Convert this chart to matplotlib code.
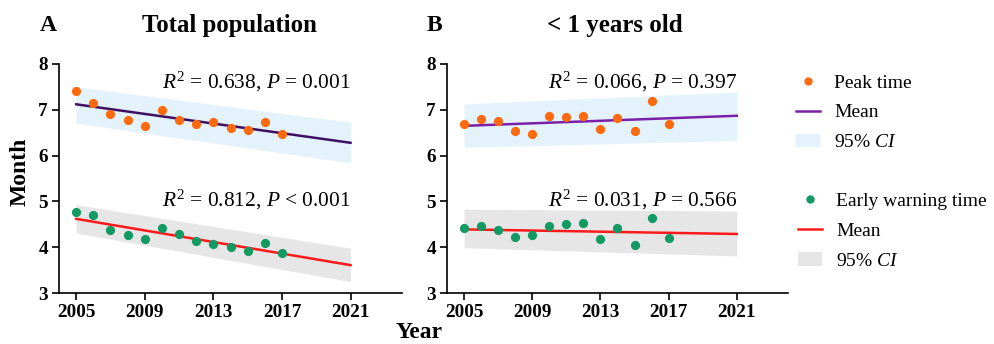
import matplotlib
matplotlib.use("Agg")
import matplotlib.pyplot as plt
from matplotlib.lines import Line2D
from matplotlib.patches import Patch

plt.rcParams['font.family'] = ['Liberation Serif', 'DejaVu Serif']
plt.rcParams['mathtext.fontset'] = 'custom'
plt.rcParams['mathtext.rm'] = 'Liberation Serif'
plt.rcParams['mathtext.it'] = 'Liberation Serif:italic'

years = [2005, 2006, 2007, 2008, 2009, 2010, 2011, 2012, 2013, 2014, 2015, 2016, 2017]
fit_years = [2005, 2021]

# Panel A: Total population
a_peak = [7.42, 7.15, 6.90, 6.77, 6.64, 7.00, 6.78, 6.70, 6.74, 6.60, 6.57, 6.74, 6.47]
a_peak_mean = [7.12, 6.28]
a_peak_lo = [6.71, 5.84]
a_peak_hi = [7.50, 6.73]
a_early = [4.76, 4.71, 4.38, 4.27, 4.19, 4.41, 4.30, 4.13, 4.08, 4.00, 3.91, 4.09, 3.87]
a_early_mean = [4.62, 3.61]
a_early_lo = [4.31, 3.25]
a_early_hi = [4.93, 3.98]

# Panel B: < 1 years old
b_peak = [6.68, 6.81, 6.75, 6.54, 6.48, 6.86, 6.84, 6.87, 6.58, 6.83, 6.54, 7.19, 6.70]
b_peak_mean = [6.65, 6.87]
b_peak_lo = [6.18, 6.33]
b_peak_hi = [7.13, 7.39]
b_early = [4.43, 4.47, 4.37, 4.22, 4.27, 4.46, 4.50, 4.54, 4.18, 4.41, 4.04, 4.64, 4.20]
b_early_mean = [4.39, 4.29]
b_early_lo = [3.99, 3.81]
b_early_hi = [4.83, 4.79]

panel_letters = ['A', 'B']
titles = ['Total population', '< 1 years old']
peak_stats = [r'$R^2$ = 0.638, $P$ = 0.001', r'$R^2$ = 0.066, $P$ = 0.397']
early_stats = [r'$R^2$ = 0.812, $P$ < 0.001', r'$R^2$ = 0.031, $P$ = 0.566']
xticks = [2005, 2009, 2013, 2017, 2021]
yticks = [3, 4, 5, 6, 7, 8]

ORANGE = '#FF6A0E'
GREEN = '#139A63'
PURPLE_A = '#3F1062'
PURPLE_B = '#7B1FA8'
RED = '#FF1A1A'
BLUE_BAND = '#E4F2FC'
GREY_BAND = '#E6E6E6'

fig = plt.figure(figsize=(9.94, 3.44), dpi=100)
axA = fig.add_axes([0.0594, 0.148, 0.345, 0.666])
axB = fig.add_axes([0.4497, 0.148, 0.343, 0.666])

data = [
    (axA, a_peak, a_peak_mean, a_peak_lo, a_peak_hi, a_early, a_early_mean, a_early_lo, a_early_hi, PURPLE_A),
    (axB, b_peak, b_peak_mean, b_peak_lo, b_peak_hi, b_early, b_early_mean, b_early_lo, b_early_hi, PURPLE_B),
]

for i, (ax, pk, pkm, pkl, pkh, ew, ewm, ewl, ewh, pcol) in enumerate(data):
    ax.fill_between(fit_years, pkl, pkh, color=BLUE_BAND, lw=0, zorder=1)
    ax.fill_between(fit_years, ewl, ewh, color=GREY_BAND, lw=0, zorder=1)
    ax.plot(fit_years, pkm, color=pcol, lw=1.8, zorder=2)
    ax.plot(fit_years, ewm, color=RED, lw=1.8, zorder=2)
    ax.scatter(years, pk, s=44, color=ORANGE, lw=0, zorder=3)
    ax.scatter(years, ew, s=44, color=GREEN, lw=0, zorder=3)
    ax.set_xlim(2004, 2024)
    ax.set_ylim(3, 8)
    ax.set_xticks(xticks)
    ax.set_yticks(yticks)
    for lab in ax.get_xticklabels() + ax.get_yticklabels():
        lab.set_fontweight('bold')
        lab.set_fontsize(13.8)
    ax.tick_params(axis='both', direction='out', length=5, width=1.2, pad=3)
    for s in ['top', 'right']:
        ax.spines[s].set_visible(False)
    for s in ['left', 'bottom']:
        ax.spines[s].set_linewidth(1.2)
    ax.text(2021, 7.47, peak_stats[i], ha='right', va='baseline', fontsize=15.4)
    ax.text(2021, 4.90, early_stats[i], ha='right', va='baseline', fontsize=15.4)

fig.text(0.040, 0.925, panel_letters[0], fontsize=17, fontweight='bold', ha='left', va='center')
fig.text(0.429, 0.925, panel_letters[1], fontsize=17, fontweight='bold', ha='left', va='center')
fig.text(0.231, 0.925, titles[0], fontsize=17.8, fontweight='bold', ha='center', va='center')
fig.text(0.619, 0.925, titles[1], fontsize=18, fontweight='bold', ha='center', va='center')
fig.text(0.020, 0.50, 'Month', fontsize=17, fontweight='bold', rotation=90, ha='center', va='center')
fig.text(0.422, 0.032, 'Year', fontsize=17, fontweight='bold', ha='center', va='center')

h1 = [Line2D([], [], marker='o', ls='none', color=ORANGE, ms=5),
      Line2D([], [], color=PURPLE_B, lw=1.8),
      Patch(facecolor=BLUE_BAND, edgecolor='none')]
l1 = ['Peak time', 'Mean', r'95% $CI$']
h2 = [Line2D([], [], marker='o', ls='none', color=GREEN, ms=5),
      Line2D([], [], color=RED, lw=1.8),
      Patch(facecolor=GREY_BAND, edgecolor='none')]
l2 = ['Early warning time', 'Mean', r'95% $CI$']

kw = dict(loc='upper left', frameon=False, fontsize=14, handlelength=1.25,
          handletextpad=0.7, labelspacing=0.63, borderaxespad=0, borderpad=0)
leg1 = fig.legend(h1, l1, bbox_to_anchor=(0.801, 0.785), **kw)
leg2 = fig.legend(h2, l2, bbox_to_anchor=(0.803, 0.44), **kw)

fig.savefig('out.png', dpi=100)
